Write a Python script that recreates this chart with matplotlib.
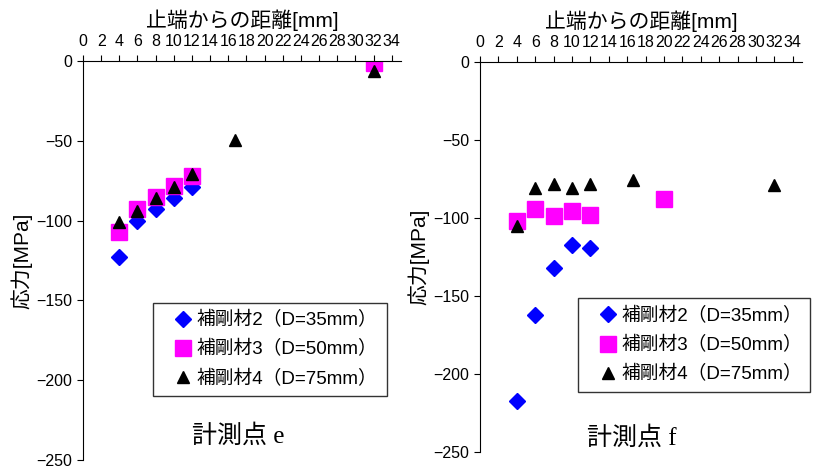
import numpy as np
import matplotlib
matplotlib.use('Agg')
import matplotlib.pyplot as plt

plt.rcParams['font.family'] = ['Liberation Sans', 'Noto Sans CJK JP']

# 計測点 e
e_x2 = [4, 6, 8, 10, 12]
e_y2 = [-123, -100.5, -93, -86, -79]
e_x3 = [4, 6, 8, 10, 12, 32]
e_y3 = [-107, -93, -85.5, -78, -72, -1]
e_x4 = [4, 6, 8, 10, 12, 16.7, 32]
e_y4 = [-101, -94, -86, -79, -71, -49.5, -6.5]

# 計測点 f
f_x2 = [4, 6, 8, 10, 12]
f_y2 = [-217, -162, -132, -117, -119]
f_x3 = [4, 6, 8, 10, 12, 20]
f_y3 = [-102, -94.5, -99, -95.5, -98, -88]
f_x4 = [4, 6, 8, 10, 12, 16.6, 32]
f_y4 = [-105, -81, -78.5, -81, -78.5, -75.5, -79]

labels = ['補剛材2（D=35mm）', '補剛材3（D=50mm）', '補剛材4（D=75mm）']
xticks = np.arange(0, 36, 2)
yticks = [0, -50, -100, -150, -200, -250]


def draw(ax, data, note, legend_box, note_xy):
    (x2, y2), (x3, y3), (x4, y4) = data
    ax.plot(x2, y2, ls='none', marker='D', ms=8, color='#0000FF', label=labels[0])
    ax.plot(x3, y3, ls='none', marker='s', ms=11, color='#FF00FF', label=labels[1])
    ax.plot(x4, y4, ls='none', marker='^', ms=8, color='black', label=labels[2])

    ax.set_xlim(0, 35)
    ax.set_ylim(-250, 0)
    ax.xaxis.tick_top()
    ax.xaxis.set_label_position('top')
    ax.set_xticks(xticks)
    ax.set_yticks(yticks)
    ax.set_yticklabels(['0', '\u221250', '\u2212100', '\u2212150', '\u2212200', '\u2212250'])
    ax.tick_params(axis='x', direction='out', length=4, labelsize=11.5, pad=5)
    ax.tick_params(axis='y', direction='out', length=4, labelsize=11.5)
    ax.spines['bottom'].set_visible(False)
    ax.spines['right'].set_visible(False)
    ax.set_xlabel('止端からの距離[mm]', fontsize=15, labelpad=5)
    ax.set_ylabel('応力[MPa]', fontsize=15, labelpad=3)

    # markers sit ~30px in from the box edge, text right after
    leg = ax.legend(loc='lower left', bbox_to_anchor=legend_box, mode='expand',
                    borderaxespad=0, fontsize=13.5, frameon=True, fancybox=False,
                    handlelength=2.3, handletextpad=-0.45, borderpad=0.45,
                    labelspacing=0.6)
    leg.get_frame().set_edgecolor('black')
    leg.get_frame().set_linewidth(1.0)

    ax.text(note_xy[0], note_xy[1], note, transform=ax.transAxes, fontsize=18,
            ha='center', va='center', family=['Liberation Serif', 'Noto Sans CJK JP'])


fig = plt.figure(figsize=(8.15, 4.71), dpi=100)
ax1 = fig.add_axes([0.1018, 0.0234, 0.390, 0.847])
ax2 = fig.add_axes([0.589, 0.0403, 0.395, 0.828])

draw(ax1, [(e_x2, e_y2), (e_x3, e_y3), (e_x4, e_y4)], '計測点 e',
     (0.221, 0.160, 0.736, 0.24), (0.49, 0.06))
draw(ax2, [(f_x2, f_y2), (f_x3, f_y3), (f_x4, f_y4)], '計測点 f',
     (0.304, 0.154, 0.72, 0.258), (0.47, 0.035))

fig.savefig('out.png', dpi=100)
